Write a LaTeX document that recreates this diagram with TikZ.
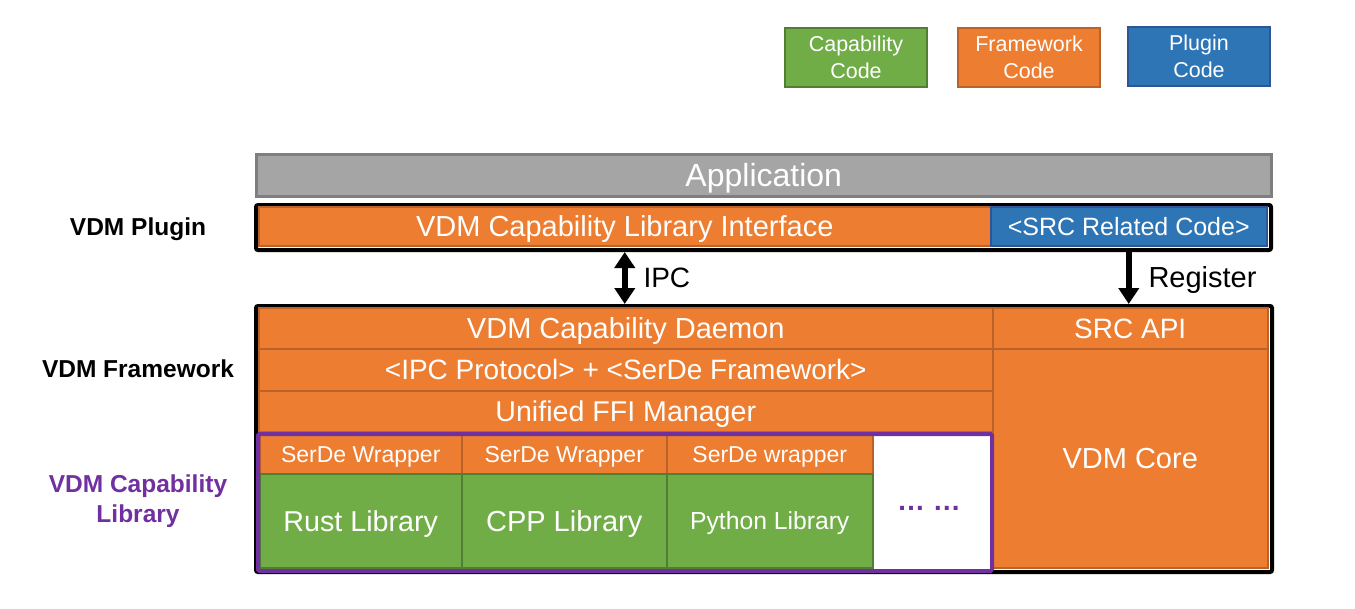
\documentclass[tikz,border=0pt]{standalone}
\usepackage{fontspec}
\setmainfont{Liberation Sans}
\usetikzlibrary{arrows.meta}

\definecolor{fworange}{HTML}{ED7D31}
\definecolor{fwedge}{HTML}{B9622A}
\definecolor{capgreen}{HTML}{70AD47}
\definecolor{capedge}{HTML}{507E32}
\definecolor{plugblue}{HTML}{2E75B6}
\definecolor{plugedge}{HTML}{2F5597}
\definecolor{appgray}{HTML}{A5A5A5}
\definecolor{appedge}{HTML}{7F7F7F}
\definecolor{libpurple}{HTML}{7030A0}

\newcommand{\txtsize}[1]{\fontsize{#1}{1.2\dimexpr#1pt\relax}\selectfont}

\tikzset{
  cell/.style={anchor=north west, inner sep=0pt, line width=1.5pt, text=white, align=center, text depth=0pt},
  fwcell/.style={cell, draw=fwedge, fill=fworange},
  capcell/.style={cell, draw=capedge, fill=capgreen},
  plugcell/.style={cell, draw=plugedge, fill=plugblue},
  frame/.style={anchor=north west, inner sep=0pt, draw=black, line width=4pt, rounded corners=2pt},
  layer/.style={font=\txtsize{24.5}\bfseries, align=center},
  flow/.style={line width=5.5pt},
}

\begin{document}
\begin{tikzpicture}[>={Triangle[width=20pt,length=16pt]}, x=1pt, y=-1pt]
\useasboundingbox (0,0) rectangle (1355,608);

% legend
\node[capcell, line width=2pt, minimum width=142pt, minimum height=59pt, font=\txtsize{21.5}] (capleg) at (784,27) {Capability\\[1pt]Code};
\node[fwcell, line width=2pt, minimum width=142pt, minimum height=59pt, font=\txtsize{21.5}] (fwleg) at (957,27) {Framework\\[1pt]Code};
\node[plugcell, line width=2pt, minimum width=142pt, minimum height=59pt, font=\txtsize{21.5}] (plugleg) at (1127,26) {Plugin\\[1pt]Code};

% application
\node[cell, draw=appedge, fill=appgray, line width=2.5pt, minimum width=1015pt, minimum height=42pt, font=\txtsize{32}] (app) at (255,153) {Application};

% plugin
\node[frame, minimum width=1015pt, minimum height=45pt] (plug) at (254,203) {};
\node[fwcell, minimum width=732pt, minimum height=39pt, font=\txtsize{29}] (iface) at (258,206) {VDM Capability Library Interface};
\node[plugcell, minimum width=276pt, minimum height=39pt, font=\txtsize{25}] (src) at (990,206) {<SRC Related Code>};

% framework
\node[frame, minimum width=1016pt, minimum height=266pt] (fw) at (254,304) {};
\node[fwcell, minimum width=734pt, minimum height=41pt, font=\txtsize{29}] (daemon) at (258,307) {VDM Capability Daemon};
\node[fwcell, minimum width=734pt, minimum height=42pt, font=\txtsize{28}] (proto) at (258,348) {<IPC Protocol> + <SerDe Framework>};
\node[fwcell, minimum width=734pt, minimum height=41pt, font=\txtsize{28.6}] (ffi) at (258,390) {Unified FFI Manager};
\node[fwcell, minimum width=275pt, minimum height=41pt, font=\txtsize{28}] (srcapi) at (992,307) {SRC API};
\node[fwcell, minimum width=275pt, minimum height=219pt, font=\txtsize{29}] (core) at (992,348) {VDM Core};

% capability libraries
\node[fwcell, minimum width=202pt, minimum height=39pt, font=\txtsize{23}] (serde1) at (259,434) {SerDe Wrapper};
\node[fwcell, minimum width=205pt, minimum height=39pt, font=\txtsize{23}] (serde2) at (461,434) {SerDe Wrapper};
\node[fwcell, minimum width=206pt, minimum height=39pt, font=\txtsize{23}] (serde3) at (666,434) {SerDe wrapper};
\node[capcell, minimum width=202pt, minimum height=94pt, font=\txtsize{28.7}] (rust) at (259,473) {Rust Library};
\node[capcell, minimum width=205pt, minimum height=94pt, font=\txtsize{29}] (cpp) at (461,473) {CPP Library};
\node[capcell, minimum width=206pt, minimum height=94pt, font=\txtsize{24.7}] (python) at (666,473) {Python Library};
\node[text=libpurple, font=\txtsize{28}\bfseries] (more) at (929,508) {… …};
\node[frame, draw=libpurple, rounded corners=1.5pt, minimum width=734pt, minimum height=137pt] (caplib) at (256,432) {};

% layer names
\node[layer] (plugname) at (138,229) {VDM Plugin};
\node[layer] (fwname) at (138,369) {VDM Framework};
\node[layer, text=libpurple] (libname) at (138,501) {VDM Capability\\[0pt]Library};

% arrows
\draw[<->, flow] (iface.south |- plug.south) -- node[right=16pt, inner sep=0pt, font=\txtsize{28}] {IPC} (iface.south |- fw.north);
\draw[->, flow] (src.south |- plug.south) -- node[right=17pt, inner sep=0pt, font=\txtsize{29}, yshift=-2pt] {Register} (src.south |- fw.north);

\end{tikzpicture}
\end{document}
